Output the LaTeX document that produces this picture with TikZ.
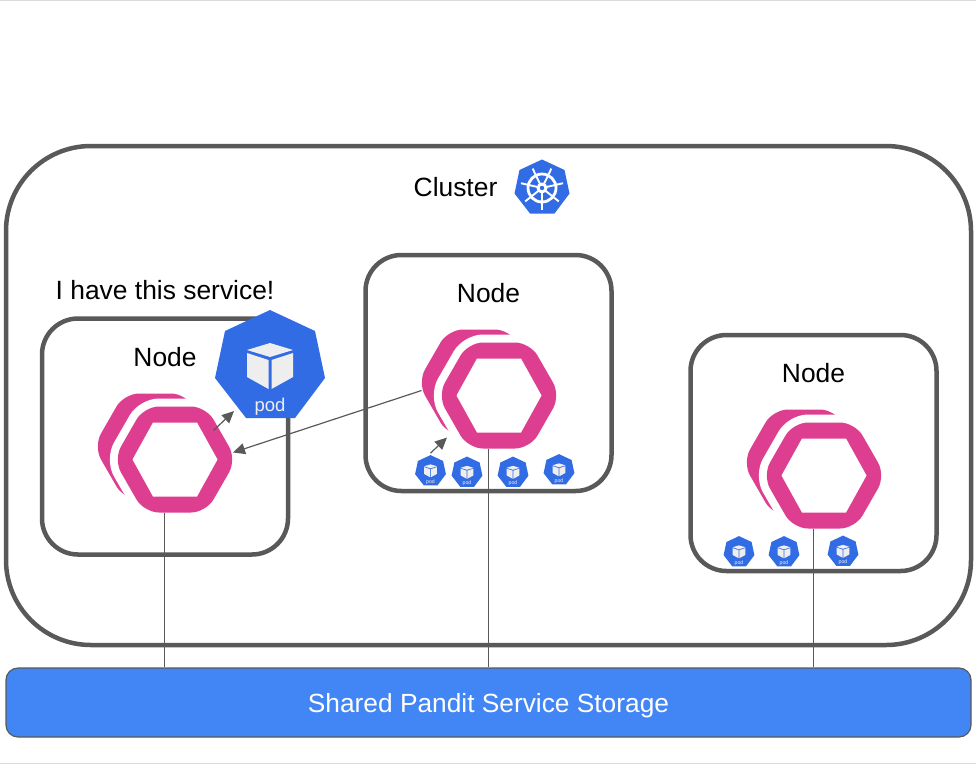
\documentclass[tikz,border=0pt]{standalone}
\usepackage{fontspec}
\setmainfont{Liberation Sans}
\usetikzlibrary{arrows.meta, positioning}
\definecolor{lineGray}{HTML}{595959}
\definecolor{hexPink}{HTML}{DE3E8F}
\definecolor{podBlue}{HTML}{326CE5}
\definecolor{storeBlue}{HTML}{4285F4}
\definecolor{cubeGray}{HTML}{EEEEEE}
\definecolor{edgeGray}{HTML}{DADADA}
\newcommand{\heptaPath}{(0,-55) -- (45,-34) -- (55,13) -- (25,53) -- (-24,53) -- (-55,13) -- (-45,-34) -- cycle}
\newcommand{\hexaPath}{(-61.5,0) -- (-31,-53) -- (31,-53) -- (61.5,0) -- (31,53) -- (-31,53) -- cycle}
\newcommand{\holePath}{(-42.5,0) -- (-22,-37) -- (22,-37) -- (42.5,0) -- (22,37) -- (-22,37) -- cycle}
\tikzset{
  arrowG/.style={-{Triangle[length=12pt, width=11pt]}, lineGray, line width=1.2pt},
  linkG/.style={lineGray, line width=1.2pt},
  boxCluster/.style={rectangle, rounded corners=85pt, draw=lineGray, line width=4.5pt,
                     minimum width=965pt, minimum height=499pt},
  boxNode/.style={rectangle, rounded corners=36pt, draw=lineGray, line width=4.5pt,
                  minimum width=246pt, minimum height=236pt},
  boxStore/.style={rectangle, rounded corners=12pt, draw=lineGray, fill=storeBlue, line width=1.2pt,
                   text=white, minimum width=965pt, minimum height=69pt, text height=20pt, text depth=0pt,
                   font=\fontsize{26.3}{30}\selectfont},
  labelT/.style={font=\fontsize{26.4}{30}\selectfont, inner sep=0pt},
  hexpair/.pic={
    \fill[hexPink, rounded corners=15pt, shift={(-20,-13)}] \hexaPath;
    \draw[white, fill=white, line width=16pt, rounded corners=15pt] \hexaPath;
    \fill[hexPink, rounded corners=15pt] \hexaPath;
    \fill[white] \holePath;
    \coordinate (-base) at (-10.5,53);
    \coordinate (-right) at (58,-7);
    \coordinate (-left) at (-77.5,-5);
    \coordinate (-inner) at (38.5,-29);
    \coordinate (-low) at (-52,42);
  },
  podicon/.pic={
    \fill[podBlue] \heptaPath;
    \fill[cubeGray] (0,-22) -- (23,-15) -- (0,-8) -- (-23,-15) -- cycle;
    \fill[cubeGray] (-23,-12) -- (-1.5,-5) -- (-1.5,24) -- (-23,12) -- cycle;
    \fill[cubeGray] (23,-12) -- (1.5,-5) -- (1.5,24) -- (23,12) -- cycle;
    \node[transform shape, text=cubeGray, inner sep=0pt, font=\fontsize{18.5}{20}\selectfont] (-name) at (0,41.5) {pod};
    \coordinate (-tip) at (-36,46);
    \coordinate (-top) at (0,-62);
  },
  wheelicon/.pic={
    \fill[podBlue, scale=0.5] \heptaPath;
    \draw[white, line width=2.8pt] (0,1) circle (14);
    \foreach \ang in {0,1,...,6}
      \draw[white, line width=1.9pt] (0,1) -- ++(90+\ang*360/7:21.5);
    \fill[white] (0,1) circle (5.5);
    \fill[podBlue] (0,1) circle (2.2);
  },
}
\begin{document}
\begin{tikzpicture}[x=1pt, y=-1pt]
    \useasboundingbox (0,0) rectangle (976,764);
    \draw[edgeGray, line width=1pt] (0,0.5) -- (976,0.5);
    \draw[edgeGray, line width=1pt] (0,763.5) -- (976,763.5);

    \node[boxCluster] (cluster) at (488.5,395.5) {};
    \node[labelT] (clusterText) at (455.5,187) {Cluster};
    \pic (clusterLogo) at (542,187) {wheelicon};

    \node[boxNode] (nodeA) at (165,436.5) {};
    \node[boxNode] (nodeB) at (488.5,373) {};
    \node[boxNode] (nodeC) at (813.5,453) {};
    \node[labelT] (nodeAText) at (165,357) {Node};
    \node[labelT] (nodeBText) at (488.5,293) {Node};
    \node[labelT] (nodeCText) at (813.5,373) {Node};
    \node[labelT] (serviceText) at (165,290) {I have this service!};

    \node[boxStore] (storage) at (488.5,702.5) {Shared Pandit Service Storage};

    \pic (hexA) at (175,459.5) {hexpair};
    \pic (hexB) at (499,395.5) {hexpair};
    \pic (hexC) at (824,475.5) {hexpair};

    \pic (podMain) at (270,365) {podicon};
    \pic[scale=0.28] (podB1) at (430.5,470.5) {podicon};
    \pic[scale=0.28] (podB2) at (467,472) {podicon};
    \pic[scale=0.28] (podB3) at (513,472) {podicon};
    \pic[scale=0.28] (podB4) at (559,469.5) {podicon};
    \pic[scale=0.28] (podC1) at (739,551.5) {podicon};
    \pic[scale=0.28] (podC2) at (784,551.5) {podicon};
    \pic[scale=0.28] (podC3) at (843,551) {podicon};

    \draw[linkG] (hexA-base) -- (hexA-base |- storage.north);
    \draw[linkG] (hexB-base) -- (hexB-base |- storage.north);
    \draw[linkG] (hexC-base) -- (hexC-base |- storage.north);
    \draw[arrowG] (hexA-inner) -- (podMain-tip);
    \draw[arrowG] (hexB-left) -- (hexA-right);
    \draw[arrowG] (podB1-top) -- (hexB-low);
  \end{tikzpicture}
\end{document}
